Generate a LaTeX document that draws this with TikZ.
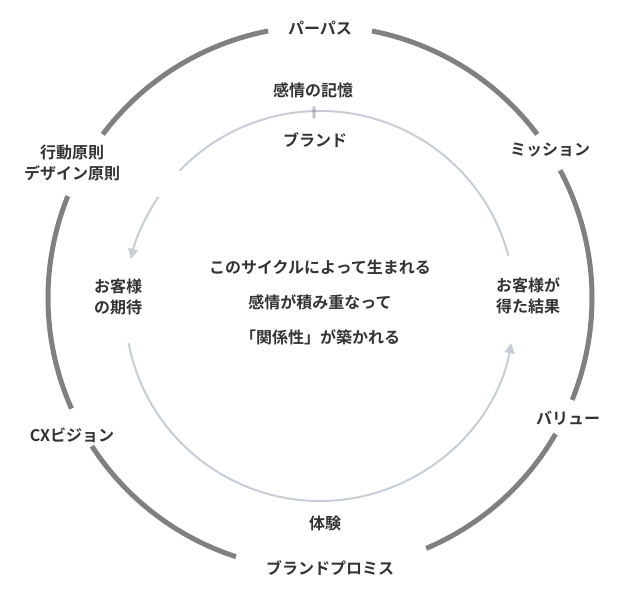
\documentclass[tikz,border=0pt]{standalone}
\usepackage{fontspec}
\setmainfont{Noto Sans CJK JP}[BoldFont={Noto Sans CJK JP Bold}]
\usepackage{tikz}
\usetikzlibrary{positioning,arrows.meta,calc}
\definecolor{ringgray}{HTML}{808080}
\definecolor{cyclegray}{HTML}{C6CDD6}
\definecolor{textgray}{HTML}{333333}

\begin{document}
\begin{tikzpicture}[x=1pt, y=1pt,
    label/.style={text=textgray, font=\fontsize{16}{21}\selectfont\bfseries, align=center, inner sep=1pt},
    ring/.style={draw=ringgray, line width=5pt},
    cycle/.style={draw=cyclegray, line width=2pt},
    cyclearrow/.style={cycle, -{Triangle[length=10pt, width=10pt]}}]
    \useasboundingbox (0,0) rectangle (640,592);
    \coordinate (outer) at (320,294);
    \coordinate (inner) at (320,286);

    % Outer ring
    \foreach \a/\b in {101/143, 158/204, 213/252, -67/-30, -22/28, 37/79}
        \draw[ring] ($(outer)+(\a:272)$) arc[start angle=\a, end angle=\b, radius=272];

    % Inner cycle
    \draw[cycle] ($(inner)+(15:195)$) arc[start angle=15, end angle=136, radius=195];
    \draw[cyclearrow] ($(inner)+(146:195)$) arc[start angle=146, end angle=166, radius=195];
    \draw[cyclearrow] ($(inner)+(191:195)$) arc[start angle=191, end angle=349, radius=195];

    % Outer labels
    \node[label] (purpose) at (320,564) {パーパス};
    \node[label] (mission) at (550,442) {ミッション};
    \node[label] (value) at (568,174) {バリュー};
    \node[label] (promise) at (330,24) {ブランドプロミス};
    \node[label] (vision) at (72,157) {CXビジョン};
    \node[label] (principles) at (72,429) {行動原則\\デザイン原則};

    % Inner labels
    \node[label] (memory) at (313,502) {感情の記憶};
    \node[label, font=\fontsize{12}{12}\selectfont] (equals) at (314,479) {‖};
    \node[label] (brand) at (315,452) {ブランド};
    \node[label] (expectation) at (118,295) {お客様\\の期待};
    \node[label] (result) at (528,296) {お客様が\\得た結果};
    \node[label] (experience) at (325,69) {体験};

    % Center message
    \node[label, font=\fontsize{16}{35}\selectfont\bfseries] (message) at (320,290)
        {このサイクルによって生まれる\\感情が積み重なって\\「関係性」が築かれる};
\end{tikzpicture}
\end{document}
